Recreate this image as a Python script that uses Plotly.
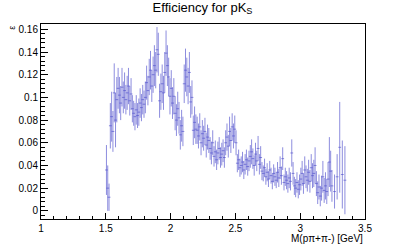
import plotly.graph_objects as go

bin_width = 0.01
first_bin_low = 1.50
eff = [
    0.036, 0.020, 0.012, 0.075, 0.083, 0.070, 0.104, 0.080, 0.098, 0.108,
    0.102, 0.095, 0.109, 0.100, 0.106, 0.098, 0.104, 0.110, 0.097, 0.103,
    0.090, 0.086, 0.083, 0.089, 0.084, 0.087, 0.095, 0.091, 0.098, 0.094,
    0.100, 0.113, 0.106, 0.118, 0.124, 0.110, 0.120, 0.128, 0.124, 0.142,
    0.138, 0.097, 0.105, 0.112, 0.104, 0.122, 0.139, 0.128, 0.118, 0.101,
    0.108, 0.095, 0.101, 0.086, 0.080, 0.090, 0.082, 0.067, 0.075, 0.070,
    0.112, 0.124, 0.118, 0.110, 0.122, 0.096, 0.100, 0.071, 0.078, 0.072,
    0.071, 0.066, 0.074, 0.060, 0.068, 0.064, 0.070, 0.058, 0.065, 0.062,
    0.055, 0.051, 0.060, 0.048, 0.052, 0.045, 0.051, 0.055, 0.047, 0.050,
    0.053, 0.047, 0.060, 0.065, 0.057, 0.070, 0.062, 0.074, 0.066, 0.072,
    0.060, 0.042, 0.045, 0.038, 0.040, 0.043, 0.036, 0.041, 0.045, 0.039,
    0.044, 0.048, 0.052, 0.046, 0.040, 0.050, 0.044, 0.055, 0.041, 0.047,
    0.035, 0.033, 0.038, 0.030, 0.034, 0.028, 0.036, 0.031, 0.026, 0.033,
    0.030, 0.027, 0.034, 0.029, 0.038, 0.031, 0.046, 0.025, 0.030, 0.027,
    0.024, 0.029, 0.026, 0.051, 0.033, 0.022, 0.020, 0.025, 0.019, 0.023,
    0.028, 0.033, 0.024, 0.036, 0.030, 0.027, 0.034, 0.026, 0.038, 0.031,
    0.033, 0.040, 0.024, 0.016, 0.021, 0.013, 0.020, 0.030, 0.018, 0.022,
    0.017, 0.028, 0.043, 0.035, 0.022, None, 0.017, None, 0.030, None,
    0.056, None, 0.032, None, 0.027,
]
err = [
    0.022, 0.020, 0.012, 0.020, 0.022, 0.018, 0.026, 0.024, 0.020, 0.018,
    0.016, 0.015, 0.017, 0.014, 0.016, 0.013, 0.015, 0.016, 0.013, 0.014,
    0.012, 0.011, 0.012, 0.013, 0.011, 0.012, 0.013, 0.012, 0.013, 0.012,
    0.014, 0.015, 0.013, 0.016, 0.017, 0.014, 0.016, 0.018, 0.016, 0.020,
    0.019, 0.015, 0.016, 0.017, 0.015, 0.018, 0.020, 0.018, 0.017, 0.016,
    0.016, 0.014, 0.016, 0.015, 0.014, 0.015, 0.014, 0.013, 0.014, 0.013,
    0.017, 0.019, 0.017, 0.016, 0.018, 0.014, 0.015, 0.013, 0.014, 0.013,
    0.012, 0.011, 0.012, 0.011, 0.012, 0.011, 0.012, 0.011, 0.011, 0.011,
    0.010, 0.010, 0.011, 0.009, 0.010, 0.009, 0.010, 0.010, 0.009, 0.010,
    0.010, 0.009, 0.011, 0.012, 0.010, 0.013, 0.011, 0.012, 0.011, 0.012,
    0.011, 0.008, 0.009, 0.008, 0.008, 0.009, 0.008, 0.009, 0.009, 0.008,
    0.009, 0.010, 0.011, 0.009, 0.009, 0.010, 0.009, 0.011, 0.009, 0.010,
    0.008, 0.007, 0.008, 0.007, 0.008, 0.007, 0.008, 0.007, 0.007, 0.008,
    0.008, 0.007, 0.009, 0.008, 0.010, 0.008, 0.010, 0.007, 0.008, 0.008,
    0.008, 0.009, 0.008, 0.012, 0.010, 0.008, 0.008, 0.009, 0.008, 0.009,
    0.010, 0.011, 0.009, 0.012, 0.010, 0.010, 0.011, 0.010, 0.012, 0.011,
    0.012, 0.016, 0.011, 0.010, 0.011, 0.009, 0.011, 0.014, 0.011, 0.012,
    0.011, 0.015, 0.022, 0.018, 0.014, None, 0.015, None, 0.020, None,
    0.040, None, 0.030, None, 0.030,
]
mass = [round(first_bin_low + (i + 0.5) * bin_width, 4) for i in range(len(eff))]

x_ticks = [1, 1.5, 2, 2.5, 3, 3.5]
y_ticks = [0, 0.02, 0.04, 0.06, 0.08, 0.1, 0.12, 0.14, 0.16]
y_tick_text = ["0", "0.02", "0.04", "0.06", "0.08", "0.1", "0.12", "0.14", "0.16"]

col = "rgba(80,80,205,0.65)"
fig = go.Figure()
fig.add_trace(go.Scatter(
    x=mass, y=eff, mode="markers",
    marker=dict(symbol="line-ew", size=2, color=col, line=dict(color=col, width=1)),
    error_y=dict(type="data", array=err, width=0, thickness=1, color=col, visible=True),
    showlegend=False, hoverinfo="x+y",
))

font = "Liberation Sans, Arial, Helvetica, sans-serif"
fig.update_layout(
    width=405, height=245,
    margin=dict(l=41, r=40, t=24, b=26, autoexpand=False),
    paper_bgcolor="white", plot_bgcolor="white",
    font=dict(family=font, size=10, color="black"),
    title=dict(text="Efficiency for pK<sub>S</sub>", x=0.5, xanchor="center",
               y=0.99, yanchor="top", font=dict(size=13, family=font)),
    xaxis=dict(range=[1, 3.5], tickvals=x_ticks, ticks="inside", ticklen=6,
               tickcolor="black", showline=True, linecolor="black", linewidth=1,
               mirror=True, showgrid=False, zeroline=False, automargin=False,
               minor=dict(dtick=0.1, ticks="inside", ticklen=3, tickcolor="black", showgrid=False),
               tickfont=dict(size=10)),
    yaxis=dict(range=[-0.0072, 0.1647], tickvals=y_ticks, ticktext=y_tick_text,
               ticks="inside", ticklen=7, tickcolor="black", showline=True,
               linecolor="black", linewidth=1, mirror=True, showgrid=False,
               zeroline=False, automargin=False,
               minor=dict(dtick=0.004, ticks="inside", ticklen=4, tickcolor="black", showgrid=False),
               tickfont=dict(size=10)),
    annotations=[
        dict(text="M(pπ+π-) [GeV]", xref="paper", yref="paper", x=1.0, y=-0.06,
             xanchor="right", yanchor="top", showarrow=False, font=dict(size=10)),
        dict(text="ε", xref="paper", yref="paper", x=-0.09, y=1.0,
             xanchor="center", yanchor="top", textangle=-90, showarrow=False,
             font=dict(size=9)),
    ],
)

fig.write_html("out.html", config={"displayModeBar": False},
               post_script="document.body.style.margin='0';document.body.style.overflow='hidden';")
